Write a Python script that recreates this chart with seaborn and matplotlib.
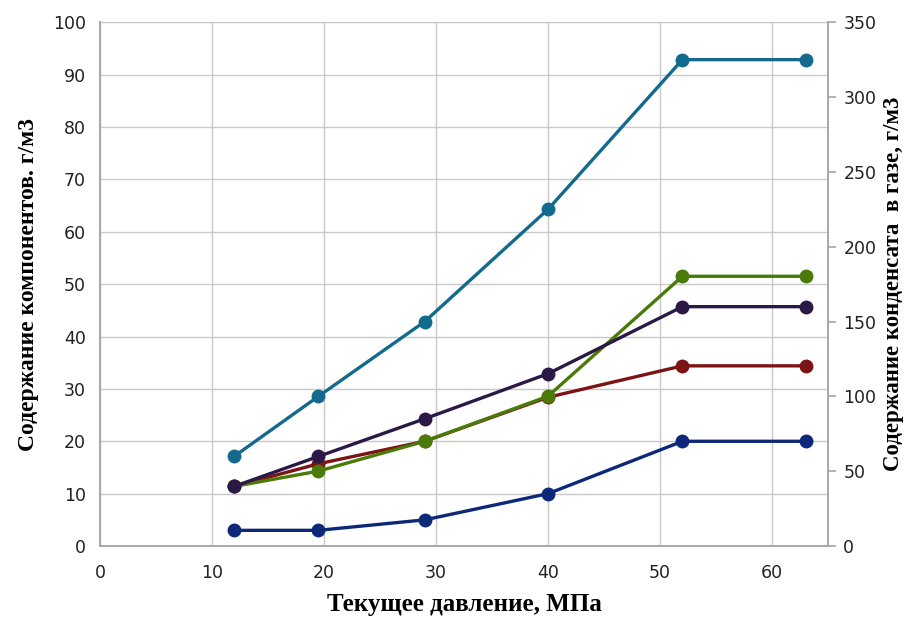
import pandas as pd
import matplotlib.pyplot as plt
import seaborn as sns

# pressure points, MPa
pressure = [12, 19.5, 29, 40, 52, 63]

# component contents, g/m3 (left axis)
green_vals = [11.4, 14.3, 20.0, 28.6, 51.5, 51.5]
purple_vals = [11.4, 17.1, 24.3, 32.9, 45.7, 45.7]
red_vals = [11.4, 15.7, 20.0, 28.4, 34.4, 34.4]
blue_vals = [3.0, 3.0, 5.0, 10.0, 20.0, 20.0]

# condensate content in gas, g/m3 (right axis)
condensate_vals = [60, 100, 150, 225, 325, 325]

# drawing order: later ones on top
series_names = ["blue", "red", "green", "purple"]
series_vals = [blue_vals, red_vals, green_vals, purple_vals]
colors = {"green": "#4a7a08", "purple": "#2c1845", "red": "#7c1414", "blue": "#0d2878"}

rows = []
for name, vals in zip(series_names, series_vals):
    for p, v in zip(pressure, vals):
        rows.append({"P": p, "val": v, "s": name})
df = pd.DataFrame(rows)
df_c = pd.DataFrame({"P": pressure, "val": condensate_vals})

sns.set_theme(style="white")
plt.rcParams['font.family'] = ['DejaVu Sans']

fig = plt.figure(figsize=(9.08, 6.17), dpi=100)
ax = fig.add_axes([0.110, 0.115, 0.802, 0.849])
ax2 = ax.twinx()

sns.lineplot(data=df, x="P", y="val", hue="s", hue_order=series_names, palette=colors,
             marker="o", markersize=10, markeredgewidth=0, linewidth=2.4, ax=ax, legend=False)
sns.lineplot(data=df_c, x="P", y="val", color="#136a8c", marker="o",
             markersize=10, markeredgewidth=0, linewidth=2.4, ax=ax2, legend=False)

ax.set_xlim(0, 65)
ax.set_ylim(0, 100)
ax2.set_ylim(0, 350)
ax.set_xticks(range(0, 61, 10))
ax.set_yticks(range(0, 101, 10))
ax2.set_yticks(range(0, 351, 50))

ax.grid(True, color="#c8c8c8", linewidth=1)
ax2.grid(False)
ax.set_axisbelow(True)

for a in (ax, ax2):
    for side in a.spines:
        a.spines[side].set_color("#a8a8a8")
    a.spines["top"].set_visible(False)

ax.tick_params(axis="both", labelsize=12.5, colors="#222222", length=0, pad=10)
ax.tick_params(axis="x", pad=13)
ax2.tick_params(axis="y", labelsize=12.5, labelcolor="#222222", color="#a8a8a8",
                length=6, direction="out", pad=5)

serif = dict(family="Liberation Serif", fontweight="bold", color="black")
ax.set_xlabel("Текущее давление, МПа", labelpad=8, fontsize=18, **serif)
ax.set_ylabel("Содержание компонентов. г/м3", labelpad=10, fontsize=17, **serif)
ax2.set_ylabel("Содержание конденсата  в газе, г/м3", labelpad=5, fontsize=16.5, **serif)

fig.savefig("out.png", dpi=100)
